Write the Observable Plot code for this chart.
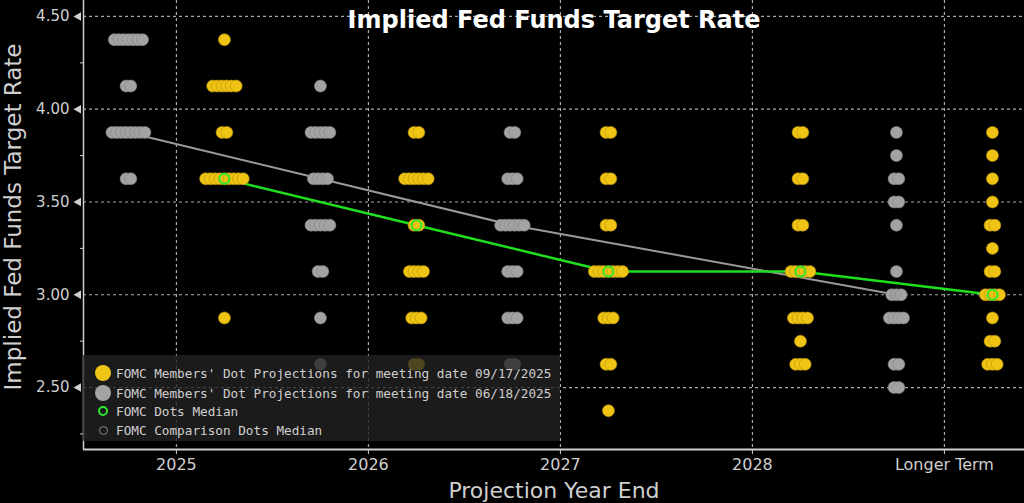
<!DOCTYPE html>
<html>
<head>
<meta charset="utf-8">
<script src="https://cdn.jsdelivr.net/npm/d3@7"></script>
<script src="https://cdn.jsdelivr.net/npm/@observablehq/plot@0.6"></script>
<style>
  html, body { margin: 0; padding: 0; background: #000; }
  #wrap { position: relative; width: 1024px; height: 503px; overflow: hidden; background: #000; }
  #legend { position: absolute; left: 83px; top: 355px; width: 477px; height: 86px;
    background: rgba(34,34,34,0.78); font-family: "DejaVu Sans Mono", monospace; font-size: 12.7px; color: #cfcfcf; }
  .row { position: absolute; left: 0; height: 19px; line-height: 19px; white-space: nowrap; }
  .row span.t { position: absolute; left: 33px; top: 0; }
  .sym { position: absolute; border-radius: 50%; box-sizing: border-box; }
</style>
</head>
<body>
<div id="wrap"></div>
<script>
const categories = ["2025", "2026", "2027", "2028", "Longer Term"];

// [category, rate, number of participants] — FOMC meeting 09/17/2025
const sepDots = [
  ["2025", 4.375, 1], ["2025", 4.125, 6], ["2025", 3.875, 2], ["2025", 3.625, 9], ["2025", 2.875, 1],
  ["2026", 3.875, 2], ["2026", 3.625, 6], ["2026", 3.375, 2], ["2026", 3.125, 4], ["2026", 2.875, 3], ["2026", 2.625, 2],
  ["2027", 3.875, 2], ["2027", 3.625, 2], ["2027", 3.375, 2], ["2027", 3.125, 7], ["2027", 2.875, 3], ["2027", 2.625, 2], ["2027", 2.375, 1],
  ["2028", 3.875, 2], ["2028", 3.625, 2], ["2028", 3.375, 2], ["2028", 3.125, 5], ["2028", 2.875, 4], ["2028", 2.75, 1], ["2028", 2.625, 3],
  ["Longer Term", 3.875, 1], ["Longer Term", 3.75, 1], ["Longer Term", 3.625, 1], ["Longer Term", 3.5, 1], ["Longer Term", 3.375, 2],
  ["Longer Term", 3.25, 1], ["Longer Term", 3.125, 2], ["Longer Term", 3.0, 4], ["Longer Term", 2.875, 1], ["Longer Term", 2.75, 2], ["Longer Term", 2.625, 3]
];
// FOMC meeting 06/18/2025
const junDots = [
  ["2025", 4.375, 7], ["2025", 4.125, 2], ["2025", 3.875, 8], ["2025", 3.625, 2],
  ["2026", 4.125, 1], ["2026", 3.875, 5], ["2026", 3.625, 4], ["2026", 3.375, 5], ["2026", 3.125, 2], ["2026", 2.875, 1], ["2026", 2.625, 1],
  ["2027", 3.875, 2], ["2027", 3.625, 3], ["2027", 3.375, 6], ["2027", 3.125, 3], ["2027", 2.875, 3], ["2027", 2.625, 2],
  ["Longer Term", 3.875, 1], ["Longer Term", 3.75, 1], ["Longer Term", 3.625, 2], ["Longer Term", 3.5, 2], ["Longer Term", 3.375, 1],
  ["Longer Term", 3.125, 1], ["Longer Term", 3.0, 3], ["Longer Term", 2.875, 4], ["Longer Term", 2.625, 2], ["Longer Term", 2.5, 2]
];
const sepMedians = [["2025", 3.625], ["2026", 3.375], ["2027", 3.125], ["2028", 3.125], ["Longer Term", 3.0]];
const junMedians = [["2025", 3.875], ["2026", 3.625], ["2027", 3.375], ["Longer Term", 3.0]];

const yMajor = [2.5, 3.0, 3.5, 4.0, 4.5];
const yMinor = [2.25, 2.75, 3.25, 3.75, 4.25];

const title = "Implied Fed Funds Target Rate";
const yLabel = "Implied Fed Funds Target Rate";
const xLabel = "Projection Year End";
const legendItems = [
  "FOMC Members' Dot Projections for meeting date 09/17/2025",
  "FOMC Members' Dot Projections for meeting date 06/18/2025",
  "FOMC Dots Median",
  "FOMC Comparison Dots Median"
];

const xDomain = [-0.484, 4.417];
const yDomain = [2.166, 4.586];
const side = 0.25;          // offset of each meeting's column from category centre
const step = 4.7 / 192;     // horizontal spacing of stacked dots

function expand(rows, s) {
  const out = [];
  for (const [cat, rate, n] of rows) {
    const i = categories.indexOf(cat);
    for (let j = 0; j < n; j++) out.push({x: i + s * side + (j - (n - 1) / 2) * step, y: rate});
  }
  return out;
}
const sepPts = expand(sepDots, 1);
const junPts = expand(junDots, -1);
const sepMed = sepMedians.map(([c, r]) => ({x: categories.indexOf(c) + side, y: r}));
const junMed = junMedians.map(([c, r]) => ({x: categories.indexOf(c) - side, y: r}));

const FONT = "DejaVu Sans, sans-serif";
const chart = Plot.plot({
  width: 1024, height: 503,
  marginLeft: 83, marginRight: 0, marginTop: 0, marginBottom: 54,
  style: {background: "#000", color: "#cfcfcf", fontFamily: FONT},
  x: {type: "linear", domain: xDomain},
  y: {domain: yDomain},
  marks: [
    Plot.gridY(yMajor, {stroke: "#bdbdbd", strokeOpacity: 0.9, strokeDasharray: "3,3", strokeWidth: 1.2}),
    Plot.gridX([0, 1, 2, 3, 4], {stroke: "#bdbdbd", strokeOpacity: 0.9, strokeDasharray: "3,3", strokeWidth: 1.2}),
    Plot.line(junMed, {x: "x", y: "y", stroke: "#9a9a9a", strokeWidth: 2}),
    Plot.line(sepMed, {x: "x", y: "y", stroke: "#1fe01f", strokeWidth: 2.5}),
    Plot.dot(junPts, {x: "x", y: "y", r: 6, fill: "#a3a3a3", stroke: "#858585", strokeWidth: 0.6}),
    Plot.dot(sepPts, {x: "x", y: "y", r: 6, fill: "#f0c414", stroke: "#b8920c", strokeWidth: 0.6}),
    Plot.dot(junMed, {x: "x", y: "y", r: 4.5, stroke: "#999999", strokeWidth: 1, fill: "none"}),
    Plot.dot(sepMed, {x: "x", y: "y", r: 5, stroke: "#2ee82e", strokeWidth: 2, fill: "none"}),
    Plot.ruleY([yDomain[0]], {stroke: "#d0d0d0", strokeWidth: 2}),
    Plot.ruleX([xDomain[0]], {stroke: "#d0d0d0", strokeWidth: 1.5}),
    Plot.axisY({ticks: yMajor, tickFormat: d => d.toFixed(2), tickSize: 0, tickPadding: 14, fontSize: 15, label: null}),
    Plot.axisY({ticks: yMinor, tickFormat: () => "", tickSize: 3, label: null, stroke: "#cfcfcf"}),
    Plot.dot(yMajor, {y: d => d, frameAnchor: "left", dx: -5, symbol: "triangle", rotate: -90, r: 3.2, fill: "#d0d0d0"}),
    Plot.axisX({ticks: [0, 1, 2, 3, 4], tickFormat: i => categories[i], tickSize: 5, tickPadding: 4, fontSize: 16, label: null}),
    Plot.text([xLabel], {frameAnchor: "bottom", dy: 41, fontSize: 22, fill: "#cfcfcf", lineAnchor: "middle"}),
    Plot.text([yLabel], {frameAnchor: "left", dx: -70, dy: -8, rotate: -90, fontSize: 23, fill: "#cfcfcf", lineAnchor: "middle", textAnchor: "middle"}),
    Plot.text([title], {frameAnchor: "top", dy: 20, fontSize: 24, fontWeight: "bold", fill: "#ffffff", lineAnchor: "middle", textAnchor: "middle", letterSpacing: "1px"})
  ]
});
const wrap = document.getElementById("wrap");
wrap.appendChild(chart);

// Legend overlay
const legend = document.createElement("div");
legend.id = "legend";
const syms = [
  {d: 16, bg: "#f0c414", border: "none"},
  {d: 16, bg: "#a3a3a3", border: "none"},
  {d: 10, bg: "transparent", border: "2px solid #2ee82e"},
  {d: 9, bg: "transparent", border: "1.5px solid #8a8a8a"}
];
const rowY = [18, 38, 56, 75];
legendItems.forEach((txt, k) => {
  const row = document.createElement("div");
  row.className = "row";
  row.style.top = (rowY[k] - 9.5) + "px";
  row.style.width = "100%";
  const s = document.createElement("div");
  s.className = "sym";
  const sy = syms[k];
  s.style.width = sy.d + "px"; s.style.height = sy.d + "px";
  s.style.left = (20 - sy.d / 2) + "px"; s.style.top = (9.5 - sy.d / 2) + "px";
  s.style.background = sy.bg; s.style.border = sy.border;
  const t = document.createElement("span");
  t.className = "t";
  t.textContent = txt;
  row.appendChild(s); row.appendChild(t);
  legend.appendChild(row);
});
wrap.appendChild(legend);
</script>
</body>
</html>
